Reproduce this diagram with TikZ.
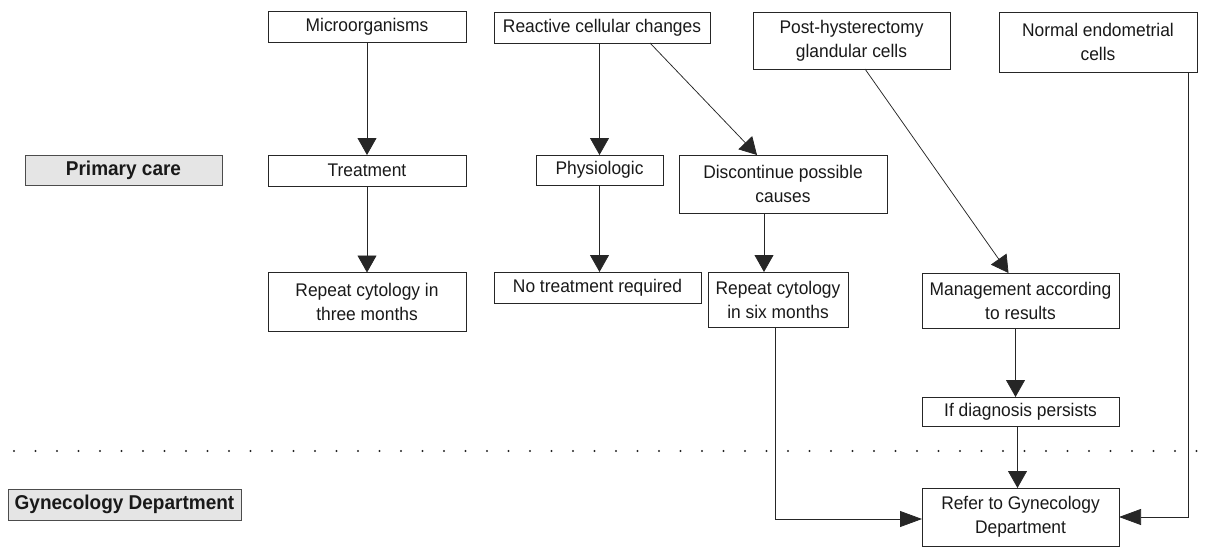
\documentclass[tikz,border=0pt]{standalone}
\usepackage{fontspec}
\setmainfont[FakeStretch=0.95]{Liberation Sans}
\usetikzlibrary{arrows.meta,calc}
\begin{document}
\begin{tikzpicture}[x=1pt,y=-1pt,
  box/.style={draw=black!85, line width=0.8pt, inner sep=0pt, outer sep=0pt, align=center,
    font=\fontsize{18.3}{24}\selectfont, text=black!90},
  lbl/.style={draw=black!70, fill=black!10, line width=0.8pt, inner sep=0pt, outer sep=0pt,
    font=\fontsize{20}{22}\selectfont\bfseries, text=black!90},
  conn/.style={line width=0.75pt, draw=black!85},
  arr/.style={conn, -{Triangle[length=17pt,width=19pt]}},
  harr/.style={conn, -{Triangle[length=22pt,width=16pt]}},
]
\useasboundingbox (0,0) rectangle (1215,546);

% side labels
\node[lbl, minimum width=197pt, minimum height=30pt] (primary) at (123.5,170) {Primary care};
\node[lbl, minimum width=233pt, minimum height=31pt] (gyn) at (124.5,504.5) {Gynecology Department};

% top row
\node[box, minimum width=198pt, minimum height=31pt] (micro) at (367,27) {Microorganisms};
\node[box, minimum width=216pt, minimum height=31pt] (reactive) at (602,27.5) {Reactive cellular changes};
\node[box, minimum width=197pt, minimum height=57pt] (posth) at (851.5,40.5) {Post-hysterectomy\\glandular cells};
\node[box, minimum width=198pt, minimum height=60pt] (normal) at (1098,42) {Normal endometrial\\cells};

% second row
\node[box, minimum width=198pt, minimum height=31pt] (treat) at (367,170.5) {Treatment};
\node[box, minimum width=127pt, minimum height=30pt] (physio) at (599.5,170) {Physiologic};
\node[box, minimum width=208pt, minimum height=58pt] (discont) at (783,184) {Discontinue possible\\causes};

% third row
\node[box, minimum width=198pt, minimum height=59pt] (rep3) at (367,302) {Repeat cytology in\\three months};
\node[box, minimum width=207pt, minimum height=31pt] (notreat) at (597.5,287.5) {No treatment required};
\node[box, minimum width=140pt, minimum height=55pt] (rep6) at (778,299.5) {Repeat cytology\\in six months};
\node[box, minimum width=197pt, minimum height=55pt] (manage) at (1020.5,300.5) {Management according\\to results};

% lower
\node[box, minimum width=197pt, minimum height=29pt] (ifdiag) at (1020.5,411.5) {If diagnosis persists};
\node[box, minimum width=197pt, minimum height=58pt] (refer) at (1020.5,517) {Refer to Gynecology\\Department};

% dotted separator
\draw[line width=2.2pt, line cap=round, dash pattern=on 0pt off 21.5pt, black!85] (14,451) -- (1202,451);

% connectors
\draw[arr] (micro.south) -- (treat.north);
\draw[arr] (treat.south) -- (rep3.north);
\draw[arr] (physio.north |- reactive.south) -- (physio.north);
\draw[arr] ([xshift=48pt]reactive.south) -- ([xshift=-26pt]discont.north);
\draw[arr] (physio.south) -- (physio.south |- notreat.north);
\draw[arr] ([xshift=-19pt]discont.south) coordinate (d1) -- (d1 |- rep6.north);
\draw[arr] ([xshift=13.5pt]posth.south) -- ([xshift=-12pt]manage.north);
\draw[arr] ([xshift=-5pt]manage.south) coordinate (m1) -- (m1 |- ifdiag.north);
\draw[arr] ([xshift=-3pt]ifdiag.south) coordinate (i1) -- (i1 |- refer.north);
\draw[harr] ([xshift=-3pt]rep6.south) |- ([yshift=-2pt]refer.west);
\draw[harr] ([xshift=-9pt]normal.south east) |- (refer.east);
\end{tikzpicture}
\end{document}
